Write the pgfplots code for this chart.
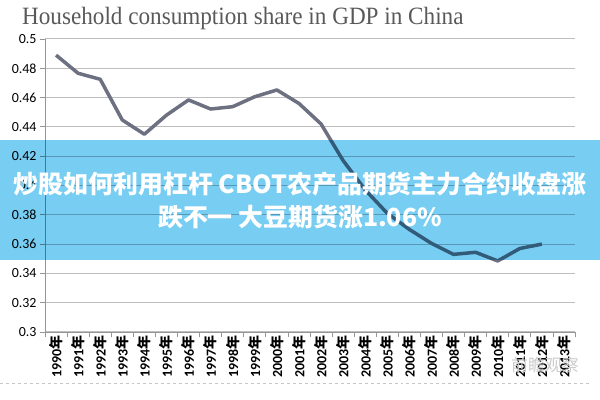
\documentclass[border=0pt]{standalone}
\usepackage{fontspec}
\setmainfont{Carlito}
\newfontfamily\cjk{Noto Sans CJK SC}
\newfontfamily\titlefont{Liberation Serif}
\usepackage{pgfplots}
\pgfplotsset{compat=1.18}
\definecolor{bannerblue}{RGB}{120,205,242}
\definecolor{linegray}{RGB}{108,112,128}
\definecolor{gridgray}{RGB}{190,190,190}
\definecolor{axisgray}{RGB}{150,150,150}
\newcommand{\yr}[1]{#1{\cjk 年}}

\begin{document}
\begin{tikzpicture}
  \path[use as bounding box] (0,0) rectangle (600bp,400bp);
  \begin{axis}[
      at={(45bp,68bp)}, anchor=south west,
      scale only axis, width=530bp, height=293bp,
      xmin=-0.5, xmax=23.5,
      ymin=0.3, ymax=0.5,
      axis x line*=bottom, axis y line*=left,
      axis line style={axisgray, line width=0.8bp, -},
      ytick={0.3,0.32,0.34,0.36,0.38,0.4,0.42,0.44,0.46,0.48,0.5},
      ymajorgrids=true,
      grid style={gridgray, line width=1bp},
      xtick={-0.5,0.5,...,23.5},
      xticklabels={},
      extra x ticks={0,1,...,23},
      extra x tick labels={\yr{1990},\yr{1991},\yr{1992},\yr{1993},\yr{1994},\yr{1995},\yr{1996},\yr{1997},\yr{1998},\yr{1999},\yr{2000},\yr{2001},\yr{2002},\yr{2003},\yr{2004},\yr{2005},\yr{2006},\yr{2007},\yr{2008},\yr{2009},\yr{2010},\yr{2011},\yr{2012},\yr{2013}},
      extra x tick style={major tick length=0pt, grid=none,
        tick label style={rotate=90, anchor=east, font=\fontsize{14}{14}\selectfont\bfseries}},
      tick align=outside,
      major tick length=5bp,
      tick style={axisgray, line width=0.8bp},
      yticklabel style={font=\fontsize{14}{14}\selectfont,
        /pgf/number format/fixed, /pgf/number format/precision=2,
        /pgf/number format/assume math mode=true},
      xticklabel style={/pgf/number format/assume math mode=true},
    ]
    \addplot[linegray, line width=3.5bp, line join=round] coordinates {
      (0,0.489) (1,0.4766) (2,0.4725) (3,0.4447) (4,0.435) (5,0.448)
      (6,0.4584) (7,0.4522) (8,0.4538) (9,0.4606) (10,0.4652) (11,0.456)
      (12,0.442) (13,0.417) (14,0.397) (15,0.381) (16,0.370) (17,0.3605)
      (18,0.353) (19,0.3544) (20,0.3485) (21,0.357) (22,0.360)
    };
  \end{axis}
  % title
  \node[anchor=base west, text=black!65, inner sep=0pt, xscale=0.93]
    at (22bp,375bp) {\titlefont\fontsize{25}{25}\selectfont Household consumption share in GDP in China};
  % bottom dashed rule and watermark
  \draw[gray!45, dashed, line width=0.6bp] (0,17bp) -- (590bp,17bp);
  \node[text=gray!40, inner sep=0pt] at (545bp,35bp) {\cjk\fontsize{17}{17}\selectfont 前瞻观察};
  % overlay banner
  \fill[bannerblue, blend mode=multiply] (0,140bp) rectangle (600bp,260bp);
  \node[text=white, inner sep=0pt] at (300bp,216bp)
    {\cjk\bfseries\fontsize{25}{25}\selectfont 炒股如何利用杠杆 CBOT农产品期货主力合约收盘涨};
  \node[text=white, inner sep=0pt] at (300bp,183bp)
    {\cjk\bfseries\fontsize{25}{25}\selectfont 跌不一 大豆期货涨1.06\%};
\end{tikzpicture}
\end{document}
